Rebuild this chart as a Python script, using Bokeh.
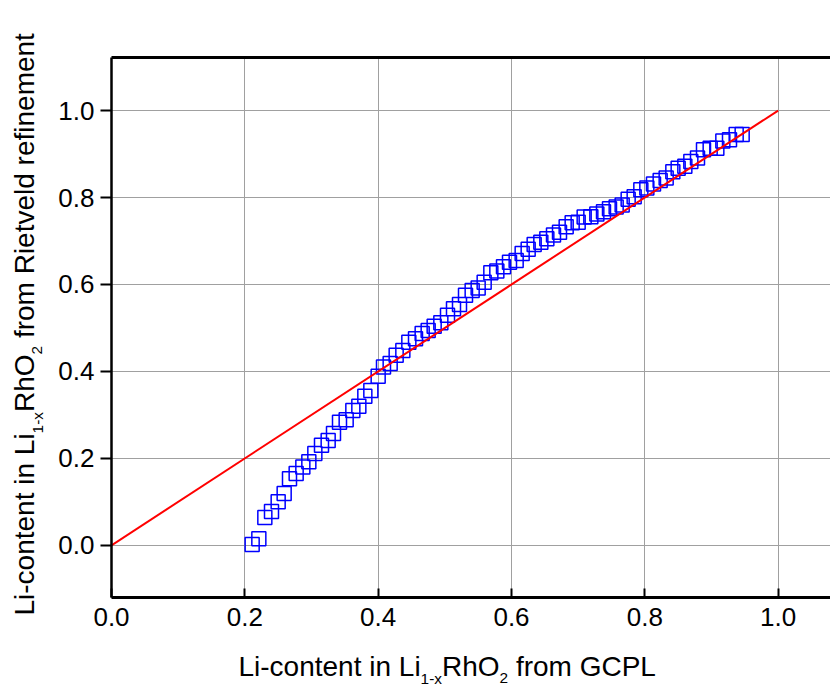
import math
from bokeh.plotting import figure
from bokeh.layouts import column, row
from bokeh.models import Range1d, FixedTicker, LinearAxis, PrintfTickFormatter
from bokeh.core.properties import value
from bokeh.embed import file_html
from bokeh.resources import INLINE

# ---- data ----
gcpl_li = [0.211, 0.221, 0.230, 0.240, 0.250, 0.259, 0.267, 0.277, 0.287, 0.296,
           0.305, 0.315, 0.325, 0.333, 0.342, 0.352, 0.362, 0.371, 0.380, 0.389,
           0.400, 0.408, 0.418, 0.427, 0.437, 0.446, 0.456, 0.466,
           0.475, 0.484, 0.494, 0.504, 0.513, 0.522, 0.531, 0.541, 0.550, 0.559,
           0.569, 0.578, 0.588, 0.597, 0.607, 0.616, 0.625, 0.634, 0.644, 0.653,
           0.663, 0.672, 0.682, 0.691, 0.700, 0.709, 0.719, 0.728, 0.738, 0.747,
           0.757, 0.766, 0.775, 0.784, 0.794, 0.803,
           0.813, 0.823, 0.832, 0.842, 0.850, 0.860, 0.869, 0.879, 0.888, 0.898,
           0.908, 0.917, 0.927, 0.937, 0.946]
rietveld_li = [0.002, 0.015, 0.064, 0.078, 0.100, 0.119, 0.153, 0.165, 0.180, 0.192,
               0.211, 0.230, 0.241, 0.257, 0.283, 0.289, 0.310, 0.320, 0.343, 0.356,
               0.389, 0.410, 0.418, 0.437, 0.448, 0.467, 0.475, 0.487,
               0.494, 0.504, 0.512, 0.529, 0.544, 0.554, 0.575, 0.586, 0.592, 0.605,
               0.627, 0.631, 0.641, 0.651, 0.655, 0.671, 0.681, 0.692, 0.697, 0.705,
               0.714, 0.720, 0.733, 0.742, 0.743, 0.755, 0.756, 0.762, 0.767, 0.774,
               0.778, 0.783, 0.796, 0.802, 0.818, 0.822,
               0.831, 0.839, 0.845, 0.859, 0.867, 0.872, 0.883, 0.891, 0.910, 0.913,
               0.913, 0.930, 0.933, 0.945, 0.945]
ideal_x = [0.0, 1.0]
ideal_y = [0.0, 1.0]
tick_values = [0.0, 0.2, 0.4, 0.6, 0.8, 1.0]
x_label_parts = [("Li-content in Li", False), ("1-x", True), ("RhO", False), ("2", True),
                 (" from GCPL", False)]
y_label_parts = [("Li-content in Li", False), ("1-x", True), ("RhO", False), ("2", True),
                 (" from Rietveld refinement", False)]

FONT = "Liberation Sans"
TOTAL_W, TOTAL_H = 830, 689
YLAB_W = 50          # width of the strip holding the y-axis title
MAIN_H = 640         # height of the row holding the plot
FRAME_LEFT, FRAME_TOP, FRAME_BOTTOM = 111, 57, 597   # page pixels

main = figure(width=TOTAL_W - YLAB_W, height=MAIN_H, output_backend="svg",
              toolbar_location=None, frame_align=False,
              x_range=Range1d(0, 1.0785), y_range=Range1d(-0.12, 1.122),
              min_border_left=FRAME_LEFT - YLAB_W, min_border_right=0,
              min_border_top=FRAME_TOP, min_border_bottom=MAIN_H - FRAME_BOTTOM)
main.outline_line_color = None
main.background_fill_color = "white"
main.border_fill_color = "white"

for ax in (main.xaxis[0], main.yaxis[0]):
    ax.ticker = FixedTicker(ticks=tick_values)
    ax.formatter = PrintfTickFormatter(format="%.1f")
    ax.major_label_text_font = FONT
    ax.major_label_text_font_size = "26px"
    ax.major_label_text_color = "black"
    ax.axis_line_color = "black"
    ax.major_tick_line_color = "black"
    ax.major_tick_line_width = 2
    ax.minor_tick_line_color = None

main.xaxis[0].major_tick_in = 9
main.xaxis[0].major_tick_out = 0
main.xaxis[0].major_label_standoff = 10
main.xaxis[0].axis_line_width = 3
main.yaxis[0].major_tick_in = 0
main.yaxis[0].major_tick_out = 11
main.yaxis[0].major_label_standoff = 6
main.yaxis[0].axis_line_width = 2.5

top = LinearAxis(ticker=FixedTicker(ticks=[]), major_label_text_font_size="0px",
                 major_tick_in=0, major_tick_out=0, minor_tick_in=0, minor_tick_out=0,
                 axis_line_color="black", axis_line_width=3)
main.add_layout(top, "above")

main.grid.grid_line_color = "#a0a0a0"
main.grid.grid_line_width = 1

main.scatter(gcpl_li, rietveld_li, marker="square", size=14, fill_color=None,
             line_color="#0000ff", line_width=1.5)
main.line(ideal_x, ideal_y, line_color="#ff0000", line_width=2)


def text_strip(w, h):
    f = figure(width=w, height=h, output_backend="svg", toolbar_location=None,
               frame_align=False, title=None,
               x_range=Range1d(0, w), y_range=Range1d(0, h),
               min_border_left=0, min_border_right=0, min_border_top=0,
               min_border_bottom=0, x_axis_type=None, y_axis_type=None)
    f.outline_line_color = None
    f.grid.visible = False
    f.background_fill_color = "white"
    f.border_fill_color = "white"
    return f


# Arial / Liberation Sans advance widths (per 1000 em)
ADV = {' ': 278, '-': 333, '1': 556, '2': 556, 'C': 722, 'G': 778, 'L': 556, 'O': 778,
       'P': 667, 'R': 722, 'c': 500, 'd': 556, 'e': 556, 'f': 278, 'h': 556, 'i': 222,
       'l': 222, 'm': 833, 'n': 556, 'o': 556, 'r': 333, 't': 278, 'v': 500, 'x': 500}


def tw(s, fs):
    return sum(ADV.get(c, 556) for c in s) * fs / 1000.0


def add_parts(f, parts, x0, y0, rotated, size=28.0, sub_size=15.4, sub_drop=7):
    """x0, y0: start of the main-text baseline (strip data coords = pixels)."""
    pos = 0.0
    for text, sub in parts:
        fs = sub_size if sub else size
        mid = 0.35 * fs          # baseline -> middle of the em box
        stripped = text.lstrip(" ")
        pos += tw(text[:len(text) - len(stripped)], fs)
        drop = sub_drop if sub else 0
        if rotated:
            lx, ly = x0 + drop - mid, y0 + pos
        else:
            lx, ly = x0 + pos, y0 - drop + mid
        f.text(x=[lx], y=[ly], text=[stripped], angle=math.pi / 2 if rotated else 0,
               text_font=value(FONT), text_font_size=value(f"{fs}px"),
               text_baseline=value("middle"), text_align=value("left"),
               text_color="black")
        pos += tw(stripped, fs)


ylab = text_strip(YLAB_W, MAIN_H)
# baseline start at page (34, 615) -> strip data coords (x, MAIN_H - y)
add_parts(ylab, y_label_parts, 34, MAIN_H - 615, rotated=True, sub_drop=8)

xlab = text_strip(TOTAL_W, TOTAL_H - MAIN_H)
# baseline start at page (238, 676) -> strip data coords (x, TOTAL_H - y)
add_parts(xlab, x_label_parts, 238, TOTAL_H - 676, rotated=False)

layout = column(row(ylab, main, spacing=0), xlab, spacing=0)

open("out.html", "w").write(file_html(layout, INLINE))
